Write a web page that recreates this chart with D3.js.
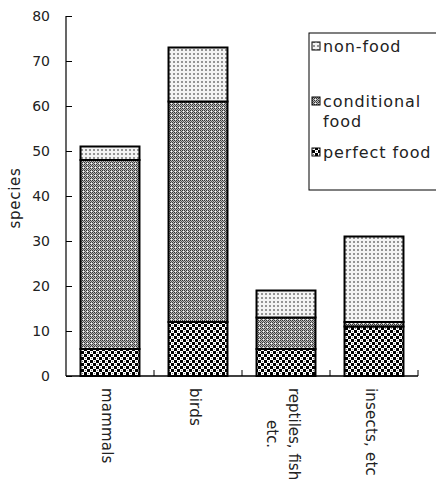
<!DOCTYPE html>
<html><head><meta charset="utf-8">
<script src="https://cdn.jsdelivr.net/npm/d3@7"></script>
<style>body{margin:0;background:#fff}svg{display:block}text{font-family:"DejaVu Sans",sans-serif}</style>
</head><body>
<script>
const categories = ["mammals","birds","reptiles, fish etc.","insects, etc"];
const categoryLines = [["mammals"],["birds"],["reptiles, fish","etc."],["insects, etc"]];
const seriesNames = ["perfect food","conditional food","non-food"];
const perfectFood = [6,12,6,11];
const conditionalFood = [42,49,7,1];
const nonFood = [3,12,6,19];
const yTicks = [0,10,20,30,40,50,60,70,80];

const W=436,H=485;
const svg=d3.select("body").append("svg").attr("width",W).attr("height",H);
const defs=svg.append("defs");
// perfect food: coarse checker
const p1=defs.append("pattern").attr("id","pf").attr("patternUnits","userSpaceOnUse").attr("width",6).attr("height",6);
p1.append("rect").attr("width",6).attr("height",6).attr("fill","#fff");
p1.append("rect").attr("width",3).attr("height",3).attr("fill","#000");
p1.append("rect").attr("x",3).attr("y",3).attr("width",3).attr("height",3).attr("fill","#000");
p1.append("rect").attr("x",1).attr("y",4).attr("width",1).attr("height",1).attr("fill","#777");
p1.append("rect").attr("x",4).attr("y",1).attr("width",1).attr("height",1).attr("fill","#777");
// conditional: fine grey checker
const p2=defs.append("pattern").attr("id","cf").attr("patternUnits","userSpaceOnUse").attr("width",4).attr("height",4);
p2.append("rect").attr("width",4).attr("height",4).attr("fill","#bbb");
[[0,0,"#333"],[2,0,"#333"],[1,1,"#555"],[3,1,"#555"],[0,2,"#333"],[2,2,"#333"],[1,3,"#555"],[3,3,"#fff"]].forEach(([a,b,c])=>
  p2.append("rect").attr("x",a).attr("y",b).attr("width",1).attr("height",1).attr("fill",c));
// non-food: light dots
const p3=defs.append("pattern").attr("id","nf").attr("patternUnits","userSpaceOnUse").attr("width",4).attr("height",4);
p3.append("rect").attr("width",4).attr("height",4).attr("fill","#f4f4f4");
p3.append("rect").attr("x",1).attr("y",1).attr("width",2).attr("height",2).attr("fill","#aaa");
p3.append("rect").attr("x",1.5).attr("y",1.5).attr("width",1).attr("height",1).attr("fill","#555");
const fills=["url(#pf)","url(#cf)","url(#nf)"];

const x=d3.scaleBand().domain(categories).range([66,418]).paddingInner(0.33).paddingOuter(0.165);
const y=d3.scaleLinear().domain([0,80]).range([376,16]);

const rows=categories.map((c,i)=>({cat:c,"perfect food":perfectFood[i],"conditional food":conditionalFood[i],"non-food":nonFood[i]}));
const stack=d3.stack().keys(seriesNames)(rows);

stack.forEach((s,k)=>{
  svg.append("g").selectAll("rect").data(s).join("rect")
    .attr("x",d=>x(d.data.cat)).attr("width",x.bandwidth())
    .attr("y",d=>y(d[1])).attr("height",d=>y(d[0])-y(d[1]))
    .attr("fill",fills[k]).attr("stroke","#000").attr("stroke-width",2);
});

// y axis
const ya=svg.append("g").attr("transform","translate(66,0)")
  .call(d3.axisRight(y).tickValues(yTicks).tickSize(6).tickFormat(d3.format("d")));
ya.select(".domain").attr("d","M0,16V376").attr("stroke","#000").attr("stroke-width",1.2);
ya.selectAll(".tick line").attr("stroke","#000");
ya.selectAll(".tick text").attr("x",-16).attr("text-anchor","end").attr("font-size",14).attr("fill","#222");

// x axis
const xa=svg.append("g").attr("transform","translate(0,376)");
xa.append("line").attr("x1",66).attr("x2",418).attr("stroke","#000").attr("stroke-width",1.5);
xa.selectAll("line.t").data(categories).join("line").attr("class","t")
  .attr("x1",d=>x(d)+x.bandwidth()+x.step()*0.165).attr("x2",d=>x(d)+x.bandwidth()+x.step()*0.165)
  .attr("y1",0).attr("y2",-6).attr("stroke","#000");
categoryLines.forEach((lines,i)=>{
  const cx=x(categories[i])+x.bandwidth()/2;
  if(lines.length===1){
    svg.append("text").attr("transform",`translate(${cx-3},388) rotate(90)`)
      .attr("dominant-baseline","central").attr("letter-spacing",0.2)
      .attr("font-size",15).attr("fill","#222").text(lines[0]);
  } else {
    const t1=svg.append("text").attr("transform",`translate(${cx+7.5},388) rotate(90)`)
      .attr("dominant-baseline","central")
      .attr("font-size",15).attr("fill","#222").text(lines[0]);
    const len=t1.node().getComputedTextLength();
    svg.append("text").attr("transform",`translate(${cx-14.5},${388+len/2}) rotate(90)`)
      .attr("dominant-baseline","central").attr("text-anchor","middle")
      .attr("font-size",15).attr("fill","#222").text(lines[1]);
  }
});

svg.append("text").attr("transform","translate(15,198) rotate(-90)").attr("text-anchor","middle")
  .attr("dominant-baseline","central").attr("letter-spacing",0.7).attr("font-size",15).attr("fill","#222").text("species");

// legend
const lg=svg.append("g");
lg.append("rect").attr("x",309).attr("y",33).attr("width",140).attr("height",157).attr("fill","#fff").attr("stroke","#000").attr("stroke-width",1);
const legendItems=[{k:2,lines:["non-food"],y:46},{k:1,lines:["conditional","food"],y:101},{k:0,lines:["perfect food"],y:152}];
legendItems.forEach(it=>{
  lg.append("rect").attr("x",312).attr("y",it.y-4).attr("width",8).attr("height",8).attr("fill",fills[it.k]).attr("stroke","#000");
  it.lines.forEach((ln,j)=>{
    lg.append("text").attr("x",323).attr("y",it.y+j*20).attr("dominant-baseline","central").attr("letter-spacing",0.9)
      .attr("font-size",16).attr("fill","#222").text(ln);
  });
});
</script>
</body></html>
